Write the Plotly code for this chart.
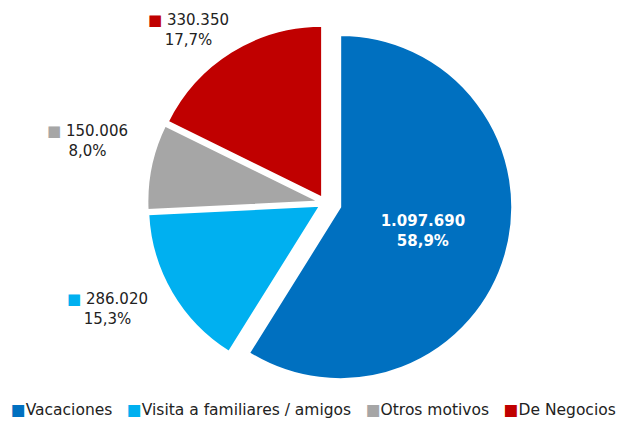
import plotly.graph_objects as go

motivos = ["Vacaciones", "Visita a familiares / amigos", "Otros motivos", "De Negocios"]
viajeros = [1097690, 286020, 150006, 330350]
colores = ["#0070C0", "#00B0F0", "#A6A6A6", "#C00000"]


def fmt_num(v):
    return f"{v:,}".replace(",", ".")


def fmt_pct(v, total):
    return f"{100 * v / total:.1f}%".replace(".", ",")


total = sum(viajeros)
font = "DejaVu Sans, Verdana, sans-serif"

# only the big slice carries its label inside
text_in = [f"<b>{fmt_num(viajeros[0])}<br>{fmt_pct(viajeros[0], total)}</b>", "", "", ""]

fig = go.Figure(go.Pie(
    labels=motivos,
    values=viajeros,
    marker=dict(colors=colores, line=dict(color="white", width=2)),
    sort=False,
    direction="clockwise",
    rotation=0,
    pull=[0.09, 0.035, 0.035, 0.035],
    text=text_in,
    textinfo="text",
    textposition="inside",
    insidetextorientation="horizontal",
    insidetextfont=dict(color="white", size=15, family=font),
    hoverinfo="label+value+percent",
    showlegend=False,
    domain=dict(x=[0.208, 0.809], y=[0.097, 0.984]),
))

# outside labels with a coloured square, like the original
label_pos = {1: (0.160, 0.290), 2: (0.128, 0.686), 3: (0.29, 0.948)}
for i, (x, y) in label_pos.items():
    fig.add_annotation(
        x=x, y=y, xref="paper", yref="paper", showarrow=False,
        xanchor="center", yanchor="middle",
        text=f"<span style='color:{colores[i]}'>■</span> {fmt_num(viajeros[i])}<br>{fmt_pct(viajeros[i], total)}",
        font=dict(size=15, family=font, color="#222222"),
        align="center",
    )

# legend drawn as one line of text so it fits the narrow width
legend_txt = "   ".join(
    f"<span style='color:{c}'>■</span>{m}" for m, c in zip(motivos, colores)
)
fig.add_annotation(
    x=0.49, y=0.052, xref="paper", yref="paper", showarrow=False,
    xanchor="center", yanchor="middle",
    text=legend_txt, font=dict(size=15.5, family=font, color="#222222"),
)

fig.update_layout(
    width=624, height=424,
    margin=dict(l=0, r=0, t=0, b=0),
    paper_bgcolor="white",
    font=dict(family=font, size=15, color="#222222"),
)

fig.write_html("out.html")
